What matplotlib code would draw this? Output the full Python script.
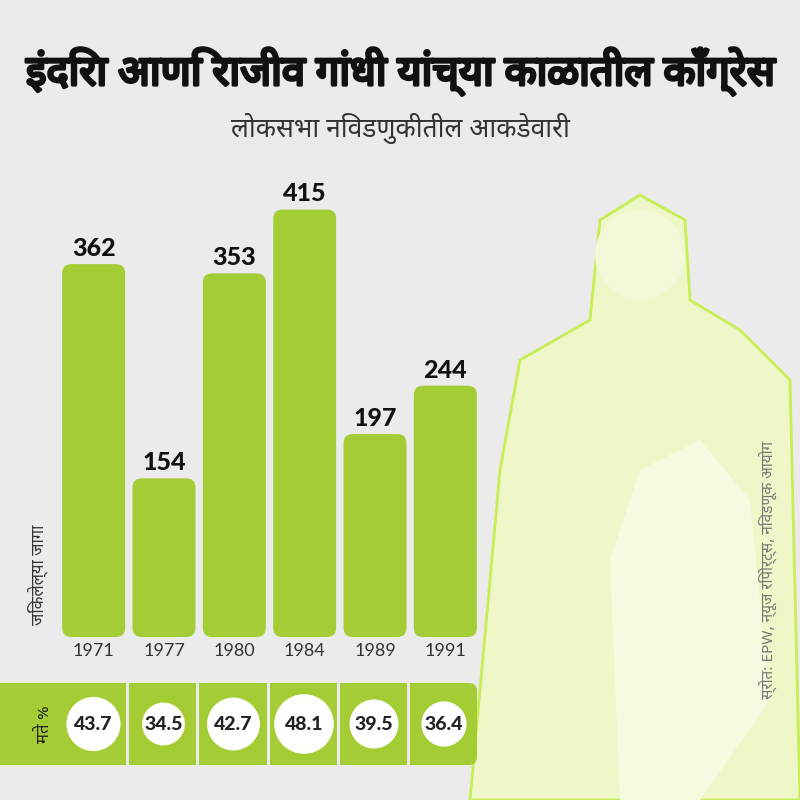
import matplotlib
matplotlib.use("Agg")
import matplotlib.pyplot as plt
from matplotlib.patches import FancyBboxPatch, Circle, Polygon, Rectangle
from matplotlib import font_manager as fm
import matplotlib.patheffects as pe

# Data
years = ['1971', '1977', '1980', '1984', '1989', '1991']
seats = [362, 154, 353, 415, 197, 244]
votes = [43.7, 34.5, 42.7, 48.1, 39.5, 36.4]

title = 'इंदिरा आणि राजीव गांधी यांच्या काळातील काँग्रेस'
subtitle = 'लोकसभा निवडणुकीतील आकडेवारी'
ylab = 'जिंकलेल्या जागा'
vlab = 'मते %'
source = 'स्रोत: EPW, न्यूज रिपोर्ट्स, निवडणूक आयोग'

GREEN = '#a3cc35'
BG = '#ebebeb'
PALE = '#eef7c8'

names = {f.name for f in fm.fontManager.ttflist}
fams = [f for f in ['Noto Sans Devanagari', 'Lohit Devanagari', 'Noto Serif Devanagari',
                    'DejaVu Sans'] if f in names] or ['DejaVu Sans']
plt.rcParams['font.family'] = fams
NUMFONT = 'Lato' if 'Lato' in names else 'DejaVu Sans'

fig = plt.figure(figsize=(8, 8), dpi=100)
fig.patch.set_facecolor(BG)

# background layer in pixel coords
bg = fig.add_axes([0, 0, 1, 1])
bg.set_xlim(0, 800); bg.set_ylim(800, 0); bg.axis('off')

# rough photo silhouette
bg.add_patch(Polygon([[600, 220], [640, 195], [685, 220], [690, 300], [740, 330], [790, 380],
                      [800, 800], [470, 800], [500, 470], [520, 360], [590, 320]],
                     closed=True, fc=PALE, ec='#c8ee55', lw=2, zorder=1))
bg.add_patch(Circle((640, 255), 45, fc='#f3f8d8', ec='none', zorder=2))
bg.add_patch(Polygon([[640, 470], [700, 440], [750, 500], [770, 700], [700, 800], [620, 800], [610, 560]],
                     closed=True, fc='#f6fae0', ec='none', zorder=2))

bg.text(400, 72, title, ha='center', va='center', fontsize=30, color='#111111',
        path_effects=[pe.withStroke(linewidth=2.2, foreground='#111111')])
bg.text(400, 128, subtitle, ha='center', va='center', fontsize=19, color='#333333')
bg.text(38, 575, ylab, ha='center', va='center', rotation=90, fontsize=12, color='#333333')
bg.text(768, 570, source, ha='center', va='center', rotation=90, fontsize=11, color='#777777', zorder=5)

# bars
ax = fig.add_axes([62 / 800, (800 - 637) / 800, 415 / 800, 470 / 800])
ax.set_xlim(-0.45, 5.45); ax.set_ylim(0, 470 / 1.03)
ax.axis('off')
asp = (470 / 1.03 / 470) / (5.9 / 415)
bars = ax.bar(range(len(years)), seats, width=0.895, color=GREEN)
for b, s, yr in zip(bars, seats, years):
    x, w, h = b.get_x(), b.get_width(), b.get_height()
    b.remove()
    ax.add_patch(FancyBboxPatch((x, 0), w, h, boxstyle='round,pad=0,rounding_size=0.13',
                                mutation_aspect=asp, fc=GREEN, ec='none'))
    ax.text(x + w / 2, h + 4, str(s), ha='center', va='bottom', fontsize=18, fontweight='black',
            family=NUMFONT, color='#111111')
    ax.text(x + w / 2, -6, yr, ha='center', va='top', fontsize=13, fontweight='normal',
            family=NUMFONT, color='#333333')

# votes row
vx = fig.add_axes([0, (800 - 765) / 800, 477 / 800, 82 / 800])
vx.set_xlim(0, 477); vx.set_ylim(0, 82); vx.axis('off')
vx.add_patch(FancyBboxPatch((-20, 0), 497, 82, boxstyle='round,pad=0,rounding_size=8',
                            fc=GREEN, ec='none'))
edges = [0, 128, 198, 269, 339, 409, 477]
for e in edges[1:-1]:
    vx.add_patch(Rectangle((e - 1.5, 0), 3, 82, fc=BG, ec='none'))
centers = [93.5, 163.5, 233.5, 304, 374, 444]
for c, v in zip(centers, votes):
    r = v * 0.62
    vx.add_patch(Circle((c, 41), r, fc='white', ec='none'))
    vx.text(c, 41, f'{v}', ha='center', va='center', fontsize=14, fontweight='black',
            family=NUMFONT, color='#222222')
vx.text(45, 41, vlab, ha='center', va='center', rotation=90, fontsize=12, color='#222222')

fig.savefig('out.png', dpi=100, facecolor=BG)
